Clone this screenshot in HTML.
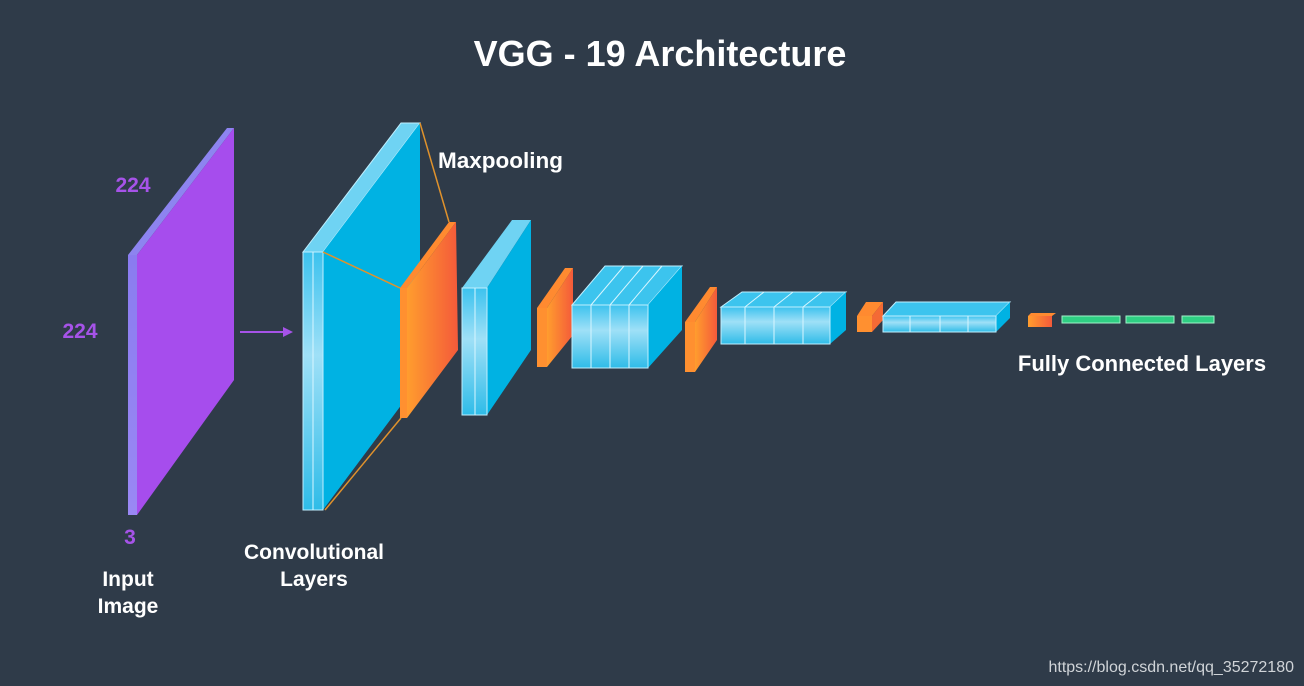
<!DOCTYPE html>
<html><head><meta charset="utf-8"><style>
html,body{margin:0;padding:0;background:#2f3b49;width:1304px;height:686px;overflow:hidden}
svg{display:block}
text{font-family:"Liberation Sans","DejaVu Sans",sans-serif;font-weight:bold}
</style></head><body>
<svg width="1304" height="686" viewBox="0 0 1304 686" xmlns="http://www.w3.org/2000/svg">
<defs>
<linearGradient id="org" x1="0" x2="1" y1="0" y2="0"><stop offset="0" stop-color="#ff9d2e"/><stop offset="1" stop-color="#f45a3a"/></linearGradient>
<linearGradient id="strip" x1="0" x2="0" y1="0" y2="1"><stop offset="0" stop-color="#3cc2ee"/><stop offset="0.4" stop-color="#9fe0f7"/><stop offset="1" stop-color="#2fbce8"/></linearGradient>
<linearGradient id="pstrip" x1="0" x2="0" y1="0" y2="1"><stop offset="0" stop-color="#8a7cf0"/><stop offset="1" stop-color="#9a88f4"/></linearGradient>
</defs>
<rect width="1304" height="686" fill="#2f3b49"/>
<text x="660" y="66" font-size="36" fill="#fff" text-anchor="middle">VGG - 19 Architecture</text>

<polygon points="128,255 227,128 234,128 137,255" fill="#8d84f0"/>
<polygon points="137,255 234,128 234,380 137,515" fill="#a64ded"/>
<rect x="128" y="255" width="9" height="260" fill="url(#pstrip)"/>
<text x="133" y="192" font-size="21" fill="#a653e8" text-anchor="middle">224</text>
<text x="80" y="338" font-size="21" fill="#a653e8" text-anchor="middle">224</text>
<text x="130" y="544" font-size="21" fill="#a653e8" text-anchor="middle">3</text>
<text x="128" y="586" font-size="21" fill="#fff" text-anchor="middle">Input</text>
<text x="128" y="613" font-size="21" fill="#fff" text-anchor="middle">Image</text>
<line x1="240" y1="332" x2="285" y2="332" stroke="#a653e8" stroke-width="2"/>
<polygon points="283,327 293,332 283,337" fill="#a653e8"/>

<polygon points="303,252 401,123 420,123 323,252" fill="#6fd3f3" stroke="#bfefff" stroke-width="1"/>
<polygon points="323,252 420,123 420,380 323,510" fill="#00b2e3"/>
<rect x="303" y="252" width="20" height="258" fill="url(#strip)" stroke="#bfefff" stroke-width="1"/>
<line x1="313" y1="252" x2="313" y2="510" stroke="#d8f6ff" stroke-width="1"/>
<line x1="420" y1="123" x2="449" y2="222" stroke="#e0922c" stroke-width="1.5"/>
<line x1="323" y1="252" x2="400" y2="288" stroke="#e0922c" stroke-width="1.5"/>
<line x1="325" y1="510" x2="401" y2="418" stroke="#e0922c" stroke-width="1.5"/>
<polygon points="400,288 449,222 456,222 407,288" fill="#ff8a30"/>
<polygon points="407,288 456,222 458,350 407,418" fill="url(#org)"/>
<rect x="400" y="288" width="7" height="130" fill="#ff9030"/>
<text x="438" y="168" font-size="22.5" fill="#fff">Maxpooling</text>
<text x="314" y="559" font-size="21" fill="#fff" text-anchor="middle">Convolutional</text>
<text x="314" y="586" font-size="21" fill="#fff" text-anchor="middle">Layers</text>

<polygon points="462,288 512,220 531,220 487,288" fill="#6fd3f3"/>
<polygon points="487,288 531,220 531,350 487,415" fill="#00b2e3"/>
<rect x="462" y="288" width="25" height="127" fill="url(#strip)" stroke="#bfefff" stroke-width="1"/>
<line x1="475" y1="288" x2="475" y2="415" stroke="#d8f6ff"/>
<polygon points="537,308 565,268 573,268 547,308" fill="#ff8a30"/>
<polygon points="547,308 573,268 573,335 547,367" fill="url(#org)"/>
<rect x="537" y="308" width="10" height="59" fill="#ff9030"/>

<polygon points="572,305 605,266 682,266 648,305" fill="#3cc4ee" stroke="#bfefff"/>
<polygon points="648,305 682,266 682,330 648,368" fill="#00b2e3"/>
<rect x="572" y="305" width="76" height="63" fill="url(#strip)" stroke="#bfefff"/>
<g stroke="#d8f6ff"><line x1="591" y1="305" x2="591" y2="368"/><line x1="610" y1="305" x2="610" y2="368"/><line x1="629" y1="305" x2="629" y2="368"/>
<line x1="591" y1="305" x2="624" y2="266"/><line x1="610" y1="305" x2="643" y2="266"/><line x1="629" y1="305" x2="662" y2="266"/></g>
<polygon points="685,322 710,287 717,287 695,322" fill="#ff8a30"/>
<polygon points="695,322 717,287 717,340 695,372" fill="url(#org)"/>
<rect x="685" y="322" width="10" height="50" fill="#ff9030"/>

<polygon points="721,307 742,292 846,292 830,307" fill="#3cc4ee" stroke="#bfefff"/>
<polygon points="830,307 846,292 846,330 830,344" fill="#00b2e3"/>
<rect x="721" y="307" width="109" height="37" fill="url(#strip)" stroke="#bfefff"/>
<g stroke="#d8f6ff"><line x1="745" y1="307" x2="745" y2="344"/><line x1="774" y1="307" x2="774" y2="344"/><line x1="803" y1="307" x2="803" y2="344"/>
<line x1="745" y1="307" x2="764" y2="292"/><line x1="774" y1="307" x2="793" y2="292"/><line x1="803" y1="307" x2="822" y2="292"/></g>
<polygon points="857,316 866,302 883,302 872,316" fill="#ff8a30"/>
<polygon points="872,316 883,302 883,320 872,332" fill="#f46a35"/>
<rect x="857" y="316" width="15" height="16" fill="#ff9030"/>

<polygon points="883,316 896,302 1010,302 996,316" fill="#3cc4ee" stroke="#bfefff"/>
<polygon points="996,316 1010,302 1010,318 996,332" fill="#00b2e3"/>
<rect x="883" y="316" width="113" height="16" fill="url(#strip)" stroke="#bfefff"/>
<g stroke="#d8f6ff"><line x1="910" y1="316" x2="910" y2="332"/><line x1="940" y1="316" x2="940" y2="332"/><line x1="968" y1="316" x2="968" y2="332"/></g>
<polygon points="1028,316 1031,313 1056,313 1052,316" fill="#ff8a30"/>
<rect x="1028" y="316" width="24" height="11" fill="url(#org)"/>
<rect x="1062" y="316" width="58" height="7" fill="#2fcf83" stroke="#9ff0c8"/>
<rect x="1126" y="316" width="48" height="7" fill="#2fcf83" stroke="#9ff0c8"/>
<rect x="1182" y="316" width="32" height="7" fill="#2fcf83" stroke="#9ff0c8"/>
<text x="1142" y="371" font-size="22" fill="#fff" text-anchor="middle">Fully Connected Layers</text>

<text x="1294" y="672" font-size="16" fill="#d0d4d8" text-anchor="end" style="font-weight:normal">https://blog.csdn.net/qq_35272180</text>
</svg>
</body></html>
